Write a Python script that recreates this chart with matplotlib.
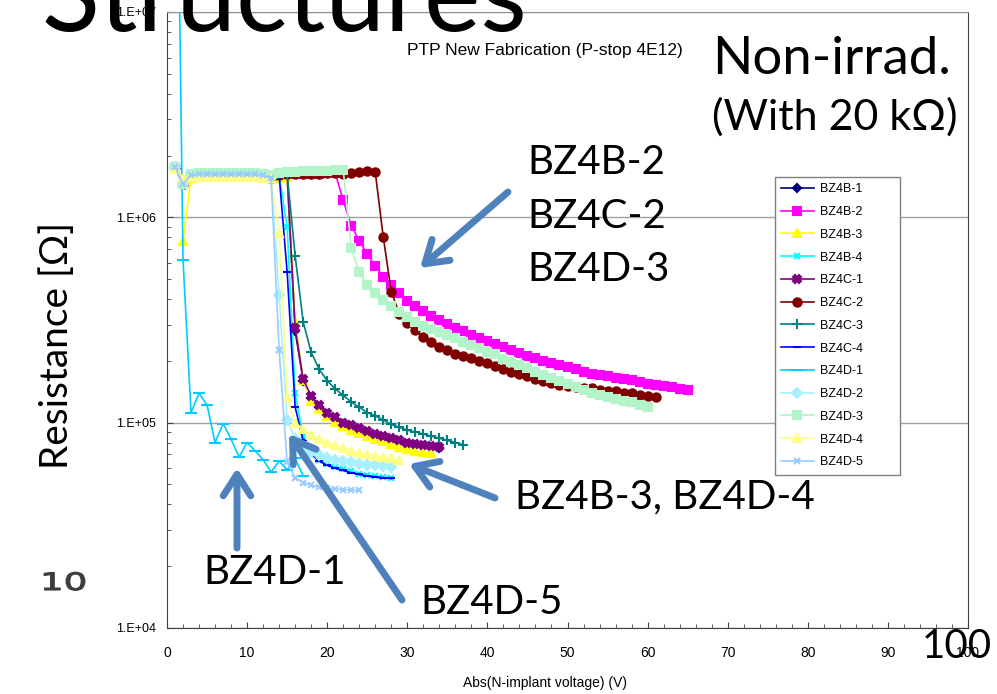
import matplotlib
matplotlib.use("Agg")
import matplotlib.pyplot as plt
from matplotlib.font_manager import FontProperties
from matplotlib.patches import PathPatch
from matplotlib.textpath import TextPath
from matplotlib.ticker import FixedLocator, FuncFormatter, LogLocator, NullFormatter
from matplotlib.transforms import Affine2D
import numpy as np

# Resistance readings (Ohm), one per volt starting at V_start
plateau = [1.75e6, 1.46e6, 1.6e6, 1.62e6, 1.63e6, 1.62e6, 1.63e6, 1.62e6, 1.63e6,
           1.62e6, 1.62e6, 1.6e6, 1.55e6, 1.6e6, 1.62e6, 1.62e6, 1.63e6, 1.63e6,
           1.63e6, 1.64e6, 1.64e6, 1.64e6, 1.64e6, 1.65e6, 1.66e6, 1.67e6]
plateau_hi = [1.75e6, 1.46e6, 1.62e6, 1.64e6, 1.65e6, 1.64e6, 1.65e6, 1.64e6, 1.65e6,
              1.64e6, 1.64e6, 1.62e6, 1.6e6, 1.64e6, 1.66e6, 1.67e6, 1.68e6, 1.68e6,
              1.69e6, 1.69e6, 1.7e6, 1.7e6]
plateau_lo = [1.56e6, 1.57e6, 1.57e6, 1.58e6, 1.57e6, 1.58e6, 1.57e6, 1.58e6,
              1.57e6, 1.57e6, 1.56e6, 1.55e6, 1.57e6]

bz4b1 = plateau[:15] + [2.8e5, 1.6e5, 1.32e5, 1.19e5, 1.1e5, 1.04e5, 9.85e4, 9.5e4,
                        9.2e4, 8.9e4, 8.65e4, 8.45e4, 8.25e4, 8.05e4, 7.9e4, 7.8e4,
                        7.7e4, 7.6e4, 7.5e4]
bz4b2 = plateau[:21] + [1.21e6, 9.1e5, 7.7e5, 6.6e5, 5.8e5, 5.15e5, 4.7e5, 4.3e5,
                        3.9e5, 3.7e5, 3.5e5, 3.3e5, 3.16e5, 3.02e5, 2.9e5, 2.78e5,
                        2.67e5, 2.58e5, 2.5e5, 2.42e5, 2.33e5, 2.25e5, 2.18e5, 2.12e5,
                        2.06e5, 2.0e5, 1.95e5, 1.9e5, 1.86e5, 1.82e5, 1.77e5, 1.72e5,
                        1.7e5, 1.68e5, 1.65e5, 1.63e5, 1.61e5, 1.58e5, 1.55e5, 1.53e5,
                        1.51e5, 1.49e5, 1.46e5, 1.44e5]
bz4b3 = [7.7e5] + plateau_lo + [3.1e5, 1.62e5, 1.28e5, 1.16e5, 1.08e5, 1.01e5, 9.6e4,
                                9.2e4, 8.9e4, 8.6e4, 8.3e4, 8.1e4, 7.9e4, 7.6e4, 7.45e4,
                                7.3e4, 7.2e4, 7.1e4]
bz4b4 = plateau[:14] + [9.0e5, 1.39e5, 8.6e4, 7.1e4, 6.6e4, 6.3e4, 6.1e4, 5.95e4,
                        5.8e4, 5.65e4, 5.55e4, 5.5e4, 5.45e4, 5.4e4]
bz4c1 = plateau[:15] + [2.9e5, 1.63e5, 1.35e5, 1.22e5, 1.12e5, 1.06e5, 1.0e5, 9.7e4,
                        9.4e4, 9.1e4, 8.8e4, 8.6e4, 8.4e4, 8.2e4, 8.0e4, 7.9e4, 7.8e4,
                        7.7e4, 7.6e4]
bz4c2 = plateau[:21] + [1.63e6, 1.64e6, 1.67e6, 1.69e6, 1.66e6, 8.0e5, 4.35e5, 3.4e5,
                        3.05e5, 2.82e5, 2.62e5, 2.47e5, 2.33e5, 2.25e5, 2.17e5, 2.11e5,
                        2.06e5, 2.0e5, 1.95e5, 1.89e5, 1.83e5, 1.77e5, 1.72e5, 1.68e5,
                        1.63e5, 1.59e5, 1.56e5, 1.53e5, 1.51e5, 1.49e5, 1.48e5, 1.47e5,
                        1.45e5, 1.43e5, 1.42e5, 1.4e5, 1.39e5, 1.37e5, 1.35e5, 1.33e5]
bz4c3 = plateau[:15] + [6.5e5, 3.1e5, 2.2e5, 1.82e5, 1.6e5, 1.46e5, 1.36e5, 1.26e5,
                        1.19e5, 1.12e5, 1.08e5, 1.03e5, 9.8e4, 9.5e4, 9.2e4, 9.0e4,
                        8.8e4, 8.6e4, 8.4e4, 8.2e4, 8.0e4, 7.8e4]
bz4c4 = plateau[:14] + [5.4e5, 1.19e5, 8.2e4, 7.0e4, 6.5e4, 6.2e4, 6.0e4, 5.85e4,
                        5.7e4, 5.6e4, 5.5e4, 5.45e4, 5.4e4, 5.35e4]
bz4d1 = [5e8, 6.2e5, 1.12e5, 1.39e5, 1.22e5, 8.0e4, 9.9e4, 8.3e4, 6.8e4, 8.0e4,
         7.3e4, 6.6e4, 5.75e4, 6.5e4, 5.9e4, 6.7e4, 5.5e4]
bz4d2 = plateau[:13] + [4.2e5, 1.03e5, 8.3e4, 7.6e4, 7.2e4, 6.95e4, 6.75e4, 6.6e4,
                        6.5e4, 6.4e4, 6.3e4, 6.25e4, 6.2e4, 6.15e4, 6.1e4]
bz4d3 = plateau_hi + [7.1e5, 5.4e5, 4.7e5, 4.26e5, 3.94e5, 3.7e5, 3.46e5, 3.27e5,
                      3.1e5, 2.97e5, 2.86e5, 2.76e5, 2.66e5, 2.57e5, 2.47e5, 2.38e5,
                      2.3e5, 2.22e5, 2.15e5, 2.05e5, 1.97e5, 1.9e5, 1.84e5, 1.77e5,
                      1.71e5, 1.65e5, 1.6e5, 1.54e5, 1.49e5, 1.44e5, 1.39e5, 1.36e5,
                      1.33e5, 1.31e5, 1.28e5, 1.26e5, 1.22e5, 1.19e5]
bz4d4 = [1.72e6] + plateau_lo[:12] + [8.4e5, 1.33e5, 1.0e5, 9.3e4, 8.7e4, 8.3e4, 8.0e4,
                                      7.75e4, 7.5e4, 7.3e4, 7.15e4, 7.0e4, 6.9e4, 6.8e4,
                                      6.7e4, 6.6e4]
bz4d5 = plateau[:13] + [2.25e5, 6.4e4, 5.4e4, 5.1e4, 4.95e4, 4.85e4, 4.8e4, 4.75e4,
                        4.72e4, 4.7e4, 4.68e4]

# (label, values, first voltage, colour, marker, marker size)
series = [
    ("BZ4B-1", bz4b1, 1, "#000080", "D", 4),
    ("BZ4B-2", bz4b2, 1, "#FF00FF", "s", 6),
    ("BZ4B-3", bz4b3, 2, "#FFFF00", "^", 6),
    ("BZ4B-4", bz4b4, 1, "#00FFFF", "x", 5),
    ("BZ4C-1", bz4c1, 1, "#800080", "X", 5.5),
    ("BZ4C-2", bz4c2, 1, "#800000", "o", 6),
    ("BZ4C-3", bz4c3, 1, "#008080", "+", 7),
    ("BZ4C-4", bz4c4, 1, "#0000FF", "_", 6),
    ("BZ4D-1", bz4d1, 1, "#00CCFF", "_", 8),
    ("BZ4D-2", bz4d2, 1, "#A8F0FF", "D", 5),
    ("BZ4D-3", bz4d3, 1, "#B3F5C9", "s", 6),
    ("BZ4D-4", bz4d4, 1, "#FFFF88", "^", 6),
    ("BZ4D-5", bz4d5, 1, "#99CCFF", "x", 5),
]

W, H = 997, 694
SLIDE = "Lato"
ARIAL = "Liberation Sans"
ARROW = "#4F81BD"

fig = plt.figure(figsize=(W / 100, H / 100), dpi=100)
ax = fig.add_axes([167 / W, 1 - 628 / H, (968 - 167) / W, (628 - 12) / H])

for label, vals, v0, color, marker, ms in series:
    volts = np.arange(v0, v0 + len(vals))
    ax.plot(volts, vals, color=color, lw=1.2, marker=marker, ms=ms,
            mec=color, mfc=color, mew=1.5, label=label)

ax.set_yscale("log")
ax.set_xlim(0, 100)
ax.set_ylim(1e4, 1e7)
ax.xaxis.set_major_locator(FixedLocator(np.arange(0, 101, 10)))
ax.xaxis.set_minor_locator(FixedLocator(np.arange(0, 101, 2)))
ax.yaxis.set_major_locator(LogLocator(base=10))
ax.yaxis.set_minor_locator(LogLocator(base=10, subs=np.arange(2, 10)))
ax.yaxis.set_minor_formatter(NullFormatter())
ax.yaxis.set_major_formatter(FuncFormatter(lambda v, _: "1.E+%02d" % round(np.log10(v))))
ax.tick_params(which="both", direction="in", color="#404040")
ax.tick_params(which="major", length=4)
ax.tick_params(which="minor", length=3)
ax.tick_params(axis="y", labelsize=9, pad=8)
ax.tick_params(axis="x", labelsize=10, pad=13)
for t in ax.get_xticklabels() + ax.get_yticklabels():
    t.set_family(ARIAL)
ax.grid(axis="y", which="major", color="#A0A0A0", lw=1)
for side in ("left", "bottom", "right"):
    ax.spines[side].set_color("#404040")
ax.spines["top"].set_color("#909090")

ax.set_xlabel("Abs(N-implant voltage) (V)", fontsize=10, family=ARIAL, va="center")
ax.xaxis.set_label_coords(0.472, -0.089)
ax.text(0.472, 0.938, "PTP New Fabrication (P-stop 4E12)", transform=ax.transAxes,
        ha="center", va="center", fontsize=12.5, family=ARIAL)

leg = ax.legend(loc="upper left", bbox_to_anchor=(0.759, 0.2435, 0.156, 0.4885),
                mode="expand", prop={"family": ARIAL, "size": 9}, fancybox=False,
                framealpha=1, edgecolor="#808080", labelspacing=0.86,
                handlelength=2.6, borderpad=0.5, handletextpad=0.5, borderaxespad=0)
leg.get_frame().set_linewidth(1)


def px(x, y):
    return (x, H - y)


# slide overlay text
fig.text(42 / W, 1 - 31 / H, "Structures", fontsize=77, family=SLIDE, va="baseline")
fig.text(712 / W, 1 - 60 / H, "Non-irrad.", fontsize=38, family=SLIDE, va="center")
fig.text(712 / W, 1 - 117 / H, "(With 20 k\u03a9)", fontsize=31, family=SLIDE, va="center")
for i, name in enumerate(["BZ4B-2", "BZ4C-2", "BZ4D-3"]):
    fig.text(527 / W, 1 - (162 + 54 * i) / H, name, fontsize=29, family=SLIDE, va="center")
fig.text(515 / W, 1 - 497 / H, "BZ4B-3, BZ4D-4", fontsize=29, family=SLIDE, va="center")
fig.text(203 / W, 1 - 572 / H, "BZ4D-1", fontsize=29, family=SLIDE, va="center")
fig.text(420 / W, 1 - 603 / H, "BZ4D-5", fontsize=29, family=SLIDE, va="center")
fig.text(922 / W, 1 - 647 / H, "100", fontsize=29, family=SLIDE, va="center")
fig.text(57 / W, 1 - 345 / H, "Resistance [\u03a9]", fontsize=28, family=SLIDE,
         rotation=90, ha="center", va="center")

# wide grey "10" pasted at the left margin
tp = TextPath((0, 0), "10", size=24, prop=FontProperties(family="DejaVu Sans"))
fig.patches.append(PathPatch(tp, transform=Affine2D().scale(1.55, 1.0).translate(40, H - 590),
                             facecolor="#3c3c3c", edgecolor="#3c3c3c", lw=0.8, figure=fig))

arrows = [((508, 192), (420, 268)),
          ((237, 548), (237, 468)),
          ((402, 600), (289, 434)),
          ((495, 498), (409, 464))]
for tail, head in arrows:
    ax.annotate("", xy=px(*head), xycoords="figure pixels", xytext=px(*tail),
                textcoords="figure pixels",
                arrowprops=dict(arrowstyle="->,head_length=0.7,head_width=0.45",
                                color=ARROW, lw=5, mutation_scale=22,
                                shrinkA=0, shrinkB=0))

fig.savefig("out.png", dpi=100)
